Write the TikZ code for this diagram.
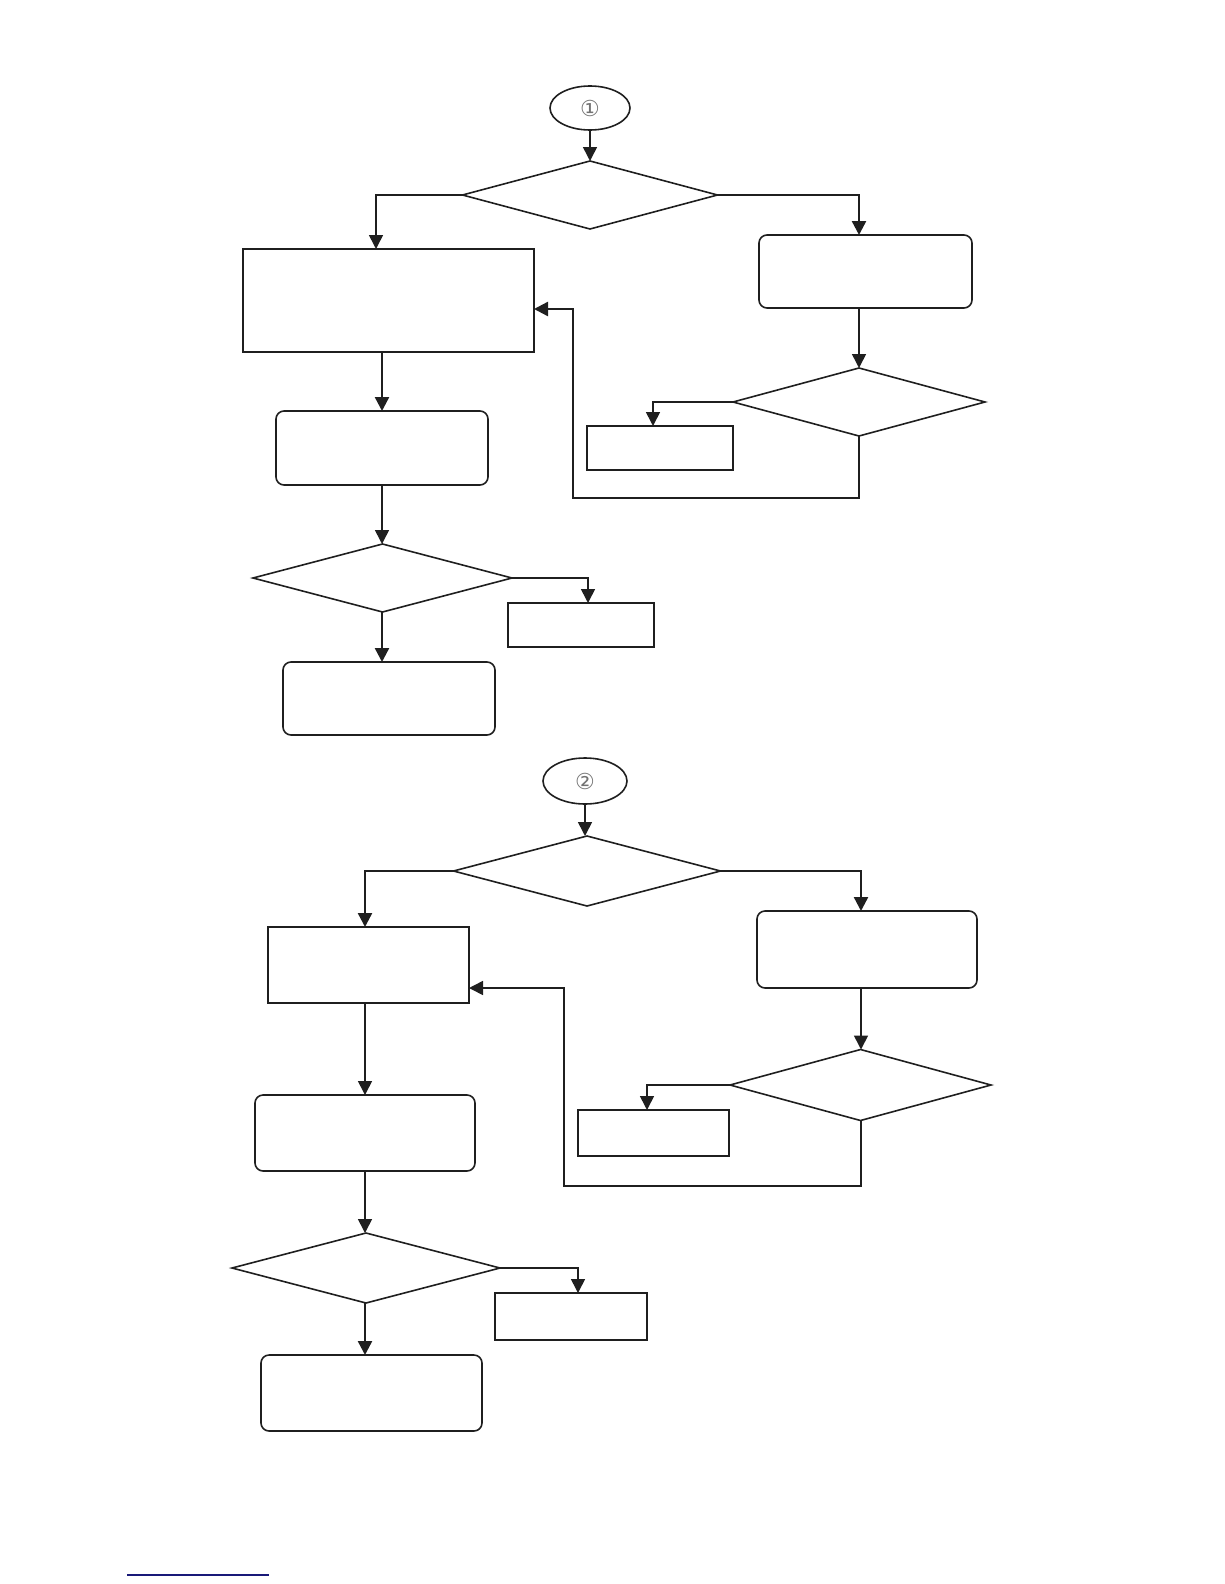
\documentclass[tikz,border=0pt]{standalone}
\usepackage{fontspec}
\newfontfamily\symfont{DejaVu Sans}
\usetikzlibrary{shapes.geometric,arrows.meta}
\tikzset{
  every node/.style={outer sep=0pt, inner sep=0pt},
  base/.style={draw=black!88, line width=1.6pt},
  rbox/.style={base, rectangle, rounded corners=8pt},
  sbox/.style={base, rectangle},
  tbox/.style={draw=black!88, line width=2.4pt, rectangle},
  dia/.style={base, diamond},
  term/.style={base, ellipse, font=\symfont\fontsize{22}{22}\selectfont, text=black!55},
  arr/.style={draw=black!88, line width=1.6pt, -{Triangle[length=14pt,width=14pt]}},
  tarr/.style={arr, line width=2.4pt},
}
\begin{document}
\begin{tikzpicture}[x=1pt,y=-1pt]
\useasboundingbox (0,0) rectangle (1224,1584);

% ---------- part 1 ----------
\node[term, minimum width=80, minimum height=44] (e1) at (590,108) {①};
\node[dia, minimum width=255, minimum height=68] (d1) at (590,195) {};
\node[sbox, minimum width=291, minimum height=103] (b1) at (388.5,300.5) {};
\node[rbox, minimum width=213, minimum height=73] (r1) at (865.5,271.5) {};
\node[dia, minimum width=252, minimum height=68] (d2) at (859,402) {};
\node[sbox, minimum width=146, minimum height=44] (s1) at (660,448) {};
\node[rbox, minimum width=212, minimum height=74] (r2) at (382,448) {};
\node[dia, minimum width=259, minimum height=68] (d3) at (382.5,578) {};
\node[tbox, minimum width=146, minimum height=44] (s2) at (581,625) {};
\node[rbox, minimum width=212, minimum height=73] (r3) at (389,698.5) {};
\coordinate (f1) at (573,498);

\draw[arr] (e1.south) -- (d1.north);
\draw[arr] (d1.west) -| ([xshift=-12.5]b1.north);
\draw[tarr] (d1.east) -| ([xshift=-6.5]r1.north);
\draw[arr] ([xshift=-6.5]r1.south) -- (d2.north);
\draw[arr] (d2.west) -| ([xshift=-7]s1.north);
\draw[tarr] (d2.south) |- (f1) |- ([yshift=-8.5]b1.east);
\draw[tarr] ([xshift=-6.5]b1.south) -- (r2.north);
\draw[arr] (r2.south) -- ([xshift=-0.5]d3.north);
\draw[arr] (d3.east) -| ([xshift=7]s2.north);
\draw[tarr] ([xshift=-0.5]d3.south) -- ([xshift=-7]r3.north);

% ---------- part 2 ----------
\node[term, minimum width=84, minimum height=46] (e2) at (585,781) {②};
\node[dia, minimum width=267, minimum height=70] (d4) at (587,871) {};
\node[sbox, minimum width=201, minimum height=76] (b2) at (368.5,965) {};
\node[rbox, minimum width=220, minimum height=77] (r4) at (867,949.5) {};
\node[dia, minimum width=261, minimum height=71] (d5) at (860.5,1085) {};
\node[sbox, minimum width=151, minimum height=46] (s3) at (653.5,1133) {};
\node[rbox, minimum width=220, minimum height=76] (r5) at (365,1133) {};
\node[dia, minimum width=268, minimum height=70] (d6) at (366,1268) {};
\node[tbox, minimum width=152, minimum height=47] (s4) at (571,1316.5) {};
\node[rbox, minimum width=221, minimum height=76] (r6) at (371.5,1393) {};
\coordinate (f2) at (564,1186);

\draw[arr] (e2.south) -- (e2.south |- d4.north);
\draw[tarr] (d4.west) -| ([xshift=-3.5]b2.north);
\draw[tarr] (d4.east) -| ([xshift=-6]r4.north);
\draw[arr] ([xshift=-6]r4.south) -- ([xshift=0.5]d5.north);
\draw[arr] (d5.west) -| ([xshift=-6.5]s3.north);
\draw[arr] ([xshift=0.5]d5.south) |- (f2) |- ([yshift=-23]b2.east);
\draw[arr] ([xshift=-3.5]b2.south) -- (r5.north);
\draw[arr] (r5.south) -- ([xshift=-1]d6.north);
\draw[arr] (d6.east) -| ([xshift=7]s4.north);
\draw[tarr] ([xshift=-1]d6.south) -- ([xshift=-6.5]r6.north);

% blue rule at the foot
\draw[draw={rgb,255:red,25;green,25;blue,120}, line width=1.5pt] (127,1575) -- (269,1575);
\end{tikzpicture}
\end{document}
